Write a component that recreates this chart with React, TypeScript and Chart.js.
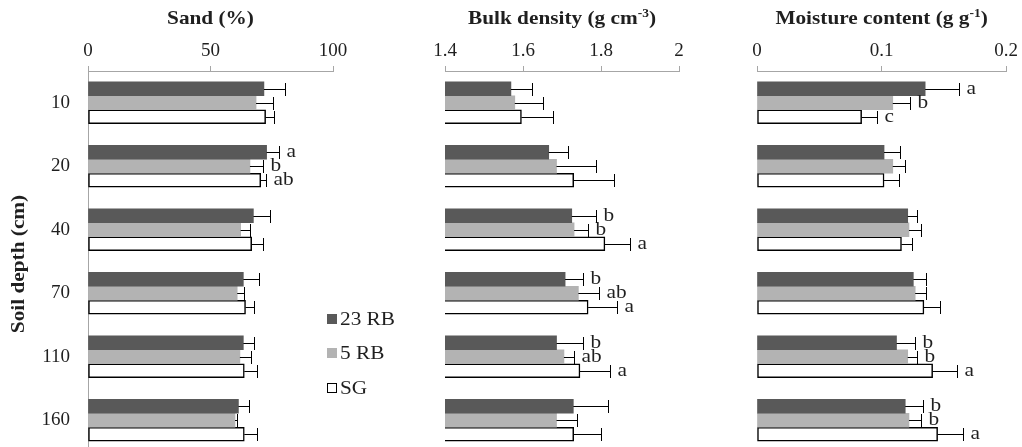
import React, { useEffect, useRef } from "react";
import { Chart, registerables } from "chart.js";
Chart.register(...registerables);

// ---------- data ----------
const categories = ["10", "20", "40", "70", "110", "160"];
const seriesNames = ["23 RB", "5 RB", "SG"];

// Sand (%)
const sand23 = [71.8, 72.9, 67.5, 63.4, 63.4, 61.4];
const sand5 = [68.6, 66.1, 62.3, 60.9, 62.0, 60.0];
const sandSG = [72.5, 70.5, 66.8, 64.3, 63.8, 63.8];
const sand23Err = [8.6, 5.2, 6.8, 6.5, 4.5, 4.4];
const sand5Err = [6.8, 5.5, 3.8, 2.8, 4.4, 1.0];
const sandSGErr = [3.4, 2.2, 4.8, 3.6, 5.0, 5.0];
const sand23Let = ["", "a", "", "", "", ""];
const sand5Let = ["", "b", "", "", "", ""];
const sandSGLet = ["", "ab", "", "", "", ""];
const sandTicks = { min: 0, max: 100, step: 50 };

// Bulk density (g cm-3)
const bd23 = [1.569, 1.666, 1.725, 1.708, 1.686, 1.729];
const bd5 = [1.579, 1.686, 1.731, 1.742, 1.705, 1.686];
const bdSG = [1.596, 1.73, 1.81, 1.767, 1.746, 1.73];
const bd23Err = [0.053, 0.049, 0.062, 0.045, 0.067, 0.09];
const bd5Err = [0.071, 0.101, 0.035, 0.054, 0.025, 0.052];
const bdSGErr = [0.082, 0.103, 0.064, 0.073, 0.077, 0.069];
const bd23Let = ["", "", "b", "b", "b", ""];
const bd5Let = ["", "", "b", "ab", "ab", ""];
const bdSGLet = ["", "", "a", "a", "a", ""];
const bdTicks = { min: 1.4, max: 2, step: 0.2 };

// Moisture content (g g-1)
const mc23 = [0.135, 0.102, 0.121, 0.1255, 0.112, 0.119];
const mc5 = [0.109, 0.109, 0.122, 0.127, 0.121, 0.122];
const mcSG = [0.084, 0.102, 0.116, 0.134, 0.141, 0.145];
const mc23Err = [0.0275, 0.0127, 0.0078, 0.0098, 0.015, 0.0139];
const mc5Err = [0.0138, 0.0097, 0.01, 0.0083, 0.0078, 0.0098];
const mcSGErr = [0.0124, 0.0118, 0.0087, 0.0127, 0.0192, 0.0205];
const mc23Let = ["a", "", "", "", "b", "b"];
const mc5Let = ["b", "", "", "", "b", "b"];
const mcSGLet = ["c", "", "", "", "a", "a"];
const mcTicks = { min: 0, max: 0.2, step: 0.1 };

const yTitle = "Soil depth (cm)";

// ---------- styles ----------
const FONT = "'Liberation Serif', 'Times New Roman', serif";
const TEXT = "#1f1f1f";
const AXIS = "#a6a6a6";
const fills = ["#595959", "#b3b3b3", "#ffffff"];
const borders = ["#595959", "#b3b3b3", "#000000"];
const borderWidths = [0, 0, 1.5];
const STRETCH = 1.12;
const CW = 1022;
const CH = 452;

type Part = { t: string; sup?: boolean };
type Panel = {
  title: Part[];
  min: number;
  max: number;
  step: number;
  values: number[][];
  errors: number[][];
  letters: string[][];
  left: number;
  right: number;
  showY: boolean;
};

const panels: Panel[] = [
  {
    title: [{ t: "Sand (%)" }],
    ...sandTicks,
    values: [sand23, sand5, sandSG],
    errors: [sand23Err, sand5Err, sandSGErr],
    letters: [sand23Let, sand5Let, sandSGLet],
    left: 0,
    right: CW - 333,
    showY: true,
  },
  {
    title: [{ t: "Bulk density (g cm" }, { t: "-3", sup: true }, { t: ")" }],
    ...bdTicks,
    values: [bd23, bd5, bdSG],
    errors: [bd23Err, bd5Err, bdSGErr],
    letters: [bd23Let, bd5Let, bdSGLet],
    left: 445,
    right: CW - 679,
    showY: false,
  },
  {
    title: [{ t: "Moisture content (g g" }, { t: "-1", sup: true }, { t: ")" }],
    ...mcTicks,
    values: [mc23, mc5, mcSG],
    errors: [mc23Err, mc5Err, mcSGErr],
    letters: [mc23Let, mc5Let, mcSGLet],
    left: 757,
    right: CW - 1007,
    showY: false,
  },
];

function stretchedText(ctx: CanvasRenderingContext2D, s: string, x: number, y: number) {
  ctx.save();
  ctx.translate(x, y);
  ctx.scale(STRETCH, 1);
  ctx.fillText(s, 0, 0);
  ctx.restore();
}

function panelPlugin(p: Panel) {
  return {
    id: "panelDecor",
    afterDatasetsDraw(chart: any) {
      const ctx: CanvasRenderingContext2D = chart.ctx;
      const xs = chart.scales.x;
      const area = chart.chartArea;
      ctx.save();
      // error bars + letters
      ctx.strokeStyle = "#000";
      ctx.lineWidth = 1;
      p.values.forEach((vals, di) => {
        const meta = chart.getDatasetMeta(di);
        meta.data.forEach((bar: any, i: number) => {
          const x0 = bar.x;
          const y = Math.round(bar.y) + 0.5;
          const x1 = Math.round(xs.getPixelForValue(vals[i] + p.errors[di][i])) + 0.5;
          ctx.beginPath();
          ctx.moveTo(x0, y);
          ctx.lineTo(x1, y);
          ctx.moveTo(x1, y - 6.5);
          ctx.lineTo(x1, y + 6.5);
          ctx.stroke();
          const L = p.letters[di][i];
          if (L) {
            ctx.fillStyle = TEXT;
            ctx.font = `19px ${FONT}`;
            ctx.textAlign = "left";
            ctx.textBaseline = "middle";
            stretchedText(ctx, L, x1 + 7, bar.y);
          }
        });
      });
      // title with superscript
      const mainFont = `bold 19px ${FONT}`;
      const supFont = `bold 12px ${FONT}`;
      let total = 0;
      const widths = p.title.map((part) => {
        ctx.font = part.sup ? supFont : mainFont;
        const w = ctx.measureText(part.t).width * STRETCH;
        total += w;
        return w;
      });
      let x = (area.left + area.right) / 2 - total / 2;
      ctx.fillStyle = TEXT;
      ctx.textAlign = "left";
      ctx.textBaseline = "alphabetic";
      p.title.forEach((part, k) => {
        ctx.font = part.sup ? supFont : mainFont;
        stretchedText(ctx, part.t, x, part.sup ? 17 : 24);
        x += widths[k];
      });
      // y axis title
      if (p.showY) {
        ctx.save();
        ctx.translate(19, 264);
        ctx.rotate(-Math.PI / 2);
        ctx.scale(STRETCH, 1);
        ctx.font = mainFont;
        ctx.textAlign = "center";
        ctx.textBaseline = "middle";
        ctx.fillText(yTitle, 0, 0);
        ctx.restore();
      }
      ctx.restore();
    },
  };
}

function makeConfig(p: Panel): any {
  const yScale: any = {
    display: p.showY,
    ticks: { font: { family: FONT, size: 19 }, color: TEXT, padding: 18 },
    grid: { display: false, drawTicks: false },
    border: { display: true, color: AXIS },
  };
  if (p.showY) {
    yScale.afterFit = (s: any) => {
      s.width = 88;
      s.paddingTop = 0;
      s.paddingBottom = 0;
    };
  }
  return {
    type: "bar",
    data: {
      labels: categories,
      datasets: p.values.map((v, i) => ({
        label: seriesNames[i],
        data: v,
        backgroundColor: fills[i],
        borderColor: borders[i],
        borderWidth: borderWidths[i],
        borderSkipped: false,
        barThickness: 14,
      })),
    },
    options: {
      indexAxis: "y",
      responsive: false,
      maintainAspectRatio: false,
      animation: false,
      devicePixelRatio: 1,
      layout: { padding: { left: p.left, right: p.right, top: 0, bottom: 0 } },
      plugins: {
        legend: { display: false },
        tooltip: { enabled: false },
        title: { display: false },
      },
      scales: {
        x: {
          position: "top",
          min: p.min,
          max: p.max,
          ticks: {
            stepSize: p.step,
            font: { family: FONT, size: 19 },
            color: TEXT,
            padding: 4,
            maxRotation: 0,
            callback: (v: any) => String(Number(Number(v).toFixed(3))),
          },
          grid: {
            display: true,
            drawOnChartArea: false,
            drawTicks: true,
            tickLength: 5,
            color: AXIS,
          },
          border: { display: true, color: AXIS },
          afterFit: (s: any) => {
            s.height = 71;
          },
        },
        y: yScale,
      },
    },
    plugins: [panelPlugin(p)],
  };
}

const legendCenters = [319, 353, 388];

export default function App() {
  const r0 = useRef<HTMLCanvasElement>(null);
  const r1 = useRef<HTMLCanvasElement>(null);
  const r2 = useRef<HTMLCanvasElement>(null);
  const refs = [r0, r1, r2];

  useEffect(() => {
    const charts = panels.map((p, k) => new Chart(refs[k].current as HTMLCanvasElement, makeConfig(p)));
    return () => charts.forEach((c) => c.destroy());
  }, []);

  return (
    <div
      style={{
        position: "fixed",
        left: 0,
        top: 0,
        width: CW,
        height: 447,
        overflow: "hidden",
        background: "#ffffff",
      }}
    >
      {refs.map((r, k) => (
        <canvas
          key={k}
          ref={r}
          width={CW}
          height={CH}
          style={{ position: "absolute", left: 0, top: 0, width: CW, height: CH }}
        />
      ))}
      {seriesNames.map((n, i) => (
        <div
          key={n}
          style={{
            position: "absolute",
            left: 327,
            top: legendCenters[i] - 11,
            height: 22,
            display: "flex",
            alignItems: "center",
          }}
        >
          <div
            style={{
              width: 10,
              height: 10,
              boxSizing: "border-box",
              background: fills[i],
              border: i === 2 ? "1px solid #000" : "none",
            }}
          />
          <span
            style={{
              display: "inline-block",
              marginLeft: 3,
              font: `19px ${FONT}`,
              lineHeight: "22px",
              color: TEXT,
              transform: `scaleX(${STRETCH})`,
              transformOrigin: "left center",
              whiteSpace: "nowrap",
            }}
          >
            {n}
          </span>
        </div>
      ))}
    </div>
  );
}
